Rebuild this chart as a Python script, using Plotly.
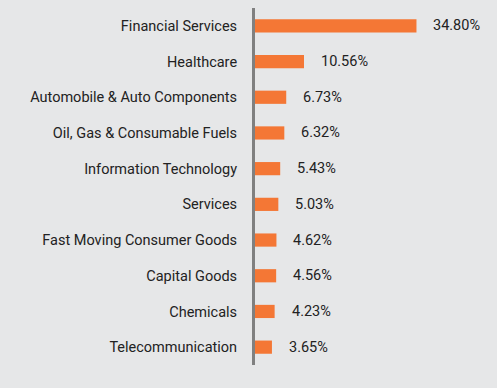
import plotly.graph_objects as go

categories = [
    "Financial Services",
    "Healthcare",
    "Automobile & Auto Components",
    "Oil, Gas & Consumable Fuels",
    "Information Technology",
    "Services",
    "Fast Moving Consumer Goods",
    "Capital Goods",
    "Chemicals",
    "Telecommunication",
]
values = [34.80, 10.56, 6.73, 6.32, 5.43, 5.03, 4.62, 4.56, 4.23, 3.65]
value_labels = [f"{v:.2f}%" for v in values]

BG = "#e6e7e8"
BAR = "#f47735"

fig = go.Figure(
    go.Bar(
        x=values,
        y=categories,
        orientation="h",
        marker=dict(color=BAR, line=dict(width=0)),
        width=0.37,
        hoverinfo="skip",
    )
)

for c, v, t in zip(categories, values, value_labels):
    fig.add_annotation(
        x=v, y=c, text=t, showarrow=False, xanchor="left", xshift=15,
        font=dict(family="Roboto", size=14.5, color="#222222"),
    )

fig.update_layout(
    width=497,
    height=388,
    paper_bgcolor=BG,
    plot_bgcolor=BG,
    margin=dict(l=255, r=10, t=8, b=23),
    showlegend=False,
    bargap=0.63,
    font=dict(family="Roboto", size=14.5, color="#222222"),
)
fig.update_xaxes(range=[0, 50], visible=False, showgrid=False, zeroline=False)
fig.update_yaxes(
    autorange="reversed",
    showgrid=False,
    zeroline=False,
    showline=True,
    linecolor="#808080",
    linewidth=3,
    ticks="",
    ticklabelstandoff=12,
    tickfont=dict(family="Roboto", size=14.5, color="#222222"),
)

fig.write_html(
    "out.html",
    config={"displayModeBar": False},
    post_script="document.body.style.margin='0';document.body.style.background='%s';document.body.style.overflow='hidden';" % BG,
)
